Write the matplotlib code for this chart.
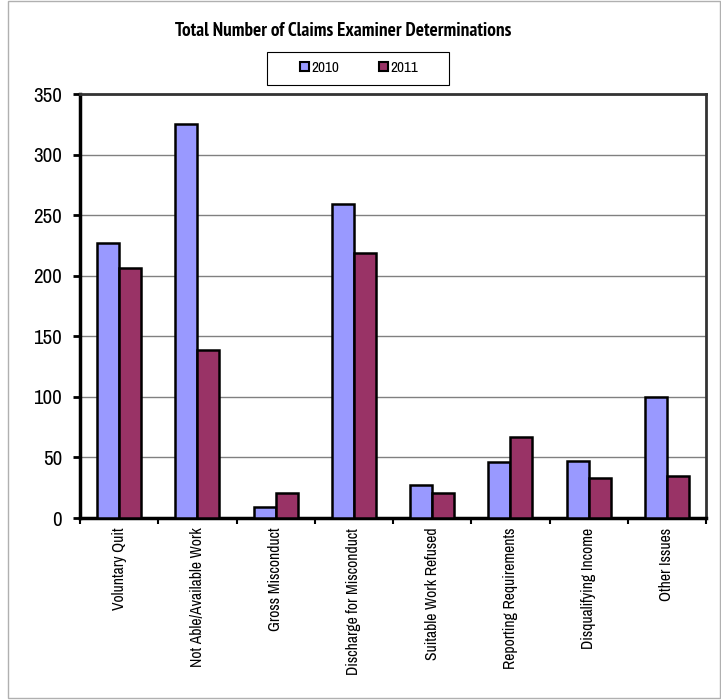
import matplotlib
matplotlib.use("Agg")
import matplotlib.pyplot as plt
from matplotlib.patches import Rectangle
import numpy as np

categories = ["Voluntary Quit", "Not Able/Available Work", "Gross Misconduct",
              "Discharge for Misconduct", "Suitable Work Refused",
              "Reporting Requirements", "Disqualifying Income", "Other Issues"]
values_2010 = [227, 325, 9, 259, 27, 46, 47, 100]
values_2011 = [206, 139, 21, 219, 21, 67, 33, 35]
series_labels = ["2010", "2011"]
yticks = [0, 50, 100, 150, 200, 250, 300, 350]

plt.rcParams['font.family'] = ['Archivo Narrow', 'PT Sans Narrow', 'Liberation Sans', 'DejaVu Sans']
title_family = ['PT Sans Narrow', 'Liberation Sans', 'DejaVu Sans']

fig = plt.figure(figsize=(7.21, 7.00), dpi=100)
fig.patch.set_facecolor("white")
W, H = 721, 700
# outer chart border
fig.add_artist(Rectangle((8/W, 2/H), 712/W, 697/H, transform=fig.transFigure,
                         fill=False, edgecolor="#b0b0b0", linewidth=1.0))

ax = fig.add_axes([80/W, (H-518)/H, 626/W, (518-94)/H])
x = np.arange(len(categories))
w = 0.28
c1 = "#9999ff"
c2 = "#993366"
ax.bar(x - w/2, values_2010, width=w, color=c1, edgecolor="black", linewidth=1.8,
       label=series_labels[0], zorder=3)
ax.bar(x + w/2, values_2011, width=w, color=c2, edgecolor="black", linewidth=1.8,
       label=series_labels[1], zorder=3)

ax.set_xlim(-0.5, len(categories) - 0.5)
ax.set_ylim(0, 350)
ax.set_yticks(yticks)
ax.set_yticklabels([str(v) for v in yticks], fontsize=15)
ax.yaxis.grid(True, color="#808080", linewidth=1.0, zorder=0)
ax.tick_params(axis="y", direction="out", length=5, width=2, pad=8)

ax.set_xticks(x)
ax.set_xticklabels(categories, rotation=90, fontsize=10.5)
ax.set_xticks(np.arange(len(categories) + 1) - 0.5, minor=True)
ax.tick_params(axis="x", which="major", length=0, pad=7)
ax.tick_params(axis="x", which="minor", direction="out", length=4, width=1.5)

for s in ["left", "bottom"]:
    ax.spines[s].set_linewidth(2.5)
    ax.spines[s].set_color("black")
for s in ["top", "right"]:
    ax.spines[s].set_linewidth(2)
    ax.spines[s].set_color("#333333")

title = fig.text(343/W, 1 - 31/H, "Total Number of Claims Examiner Determinations",
                 ha="center", va="center", fontsize=10.5, fontweight="bold",
                 family=title_family)

# legend (frame drawn separately so its padding can match the reference)
leg = fig.legend(loc="center", bbox_to_anchor=(359/W, 1 - 68/H), ncol=2,
                 frameon=False, fontsize=11,
                 handlelength=0.6, handleheight=0.6, handletextpad=0.15,
                 columnspacing=2.6, borderpad=0, borderaxespad=0)
for hnd in leg.legend_handles:
    hnd.set_linewidth(1.5)
fig.add_artist(Rectangle((267/W, 1 - 85/H), 182/W, 33/H, transform=fig.transFigure,
                         fill=False, edgecolor="black", linewidth=0.8))

# fit text sizes to the reference's measured text lengths
fig.canvas.draw()
r = fig.canvas.get_renderer()
lab = ax.get_xticklabels()[3]
L = lab.get_window_extent(r).height
s = 10.5 * 147 / L
for t in ax.get_xticklabels():
    t.set_fontsize(s)
tw = title.get_window_extent(r).width
title.set_fontsize(10.5 * 337 / tw)
yl = ax.get_yticklabels()[-1]
yw = yl.get_window_extent(r).width
ys = 15 * 29 / yw
for t in ax.get_yticklabels():
    t.set_fontsize(ys)

fig.savefig("out.png", dpi=100)
